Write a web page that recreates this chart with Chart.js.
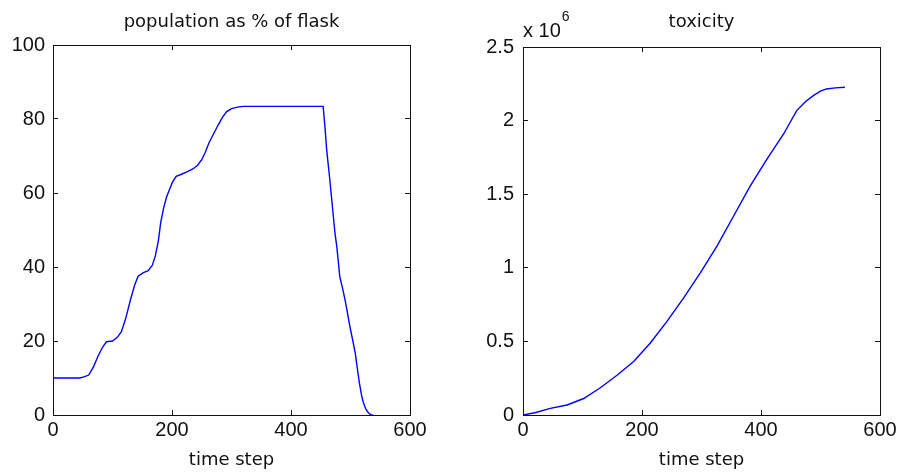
<!DOCTYPE html>
<html>
<head>
<meta charset="utf-8">
<script src="https://cdn.jsdelivr.net/npm/chart.js@4/dist/chart.umd.min.js"></script>
<style>
  html, body { margin: 0; padding: 0; background: #ffffff; }
  #wrap { position: relative; width: 899px; height: 475px; background: #ffffff; }
  canvas { position: absolute; left: 0; top: 0; }
</style>
</head>
<body>
<div id="wrap">
  <canvas id="c1" width="899" height="475"></canvas>
  <canvas id="c2" width="899" height="475"></canvas>
</div>
<script>
// ---- data ----
const popTime  = [0,45,52,60,68,76,84,90,100,108,115,122,130,137,143,152,160,167,172,177,181,186,191,196,201,207,215,225,235,243,250,256,262,270,278,285,292,300,310,320,454,457,460,465,468,474,477,482,487,491,495,499,504,508,512,515,519,522,526,530,534,538];
const popValue = [10,10,10.3,10.8,13,16,18.5,19.8,20,21,22.5,26,31,35,37.5,38.5,39,40.5,43,47,52,56,59,61,63,64.5,65,65.7,66.5,67.5,69,71,73.5,76,78.5,80.5,82,82.8,83.2,83.4,83.4,78,71.6,64,59,49,45.5,37.4,34,31,27.5,23.9,20,16.7,12,8.6,5,3.2,1.5,0.6,0.1,0];

const toxTime  = [0,20,46,74,102,130,158,186,214,242,270,298,326,354,382,410,438,460,475,488,500,510,525,541];
const toxValue = [0,0.015,0.045,0.068,0.112,0.185,0.27,0.363,0.489,0.636,0.795,0.966,1.147,1.352,1.556,1.738,1.909,2.068,2.13,2.17,2.2,2.215,2.222,2.227]; // x 10^6

const xTicks     = [0,200,400,600];
const popYTicks  = [0,20,40,60,80,100];
const toxYTicks  = [0,0.5,1,1.5,2,2.5];
const toxYLabels = ['0','0.5','1','1.5','2','2.5'];

const titles = ['population as % of flask', 'toxicity'];
const xTitle = 'time step';
const toxExponentBase = 'x 10';
const toxExponent = '6';

// ---- styling ----
const TICK_FONT = { family: '"Liberation Sans", Arial, sans-serif', size: 20, weight: 'normal' };
const TEXT_FONT = { family: '"DejaVu Sans", sans-serif', size: 18, weight: 'normal' };
const INK = '#111111';

function setTicks(values) {
  return function (scale) { scale.ticks = values.map(v => ({ value: v })); };
}

function boxScales(xt, yt, ymax, yLabels, yAxisWidth, yPad) {
  const gridCommon = { drawOnChartArea: false, drawTicks: true, tickLength: -5, color: INK, lineWidth: 1 };
  const borderCommon = { display: true, color: INK, width: 1 };
  return {
    x: {
      type: 'linear', position: 'bottom', min: 0, max: 600,
      afterBuildTicks: setTicks(xt),
      ticks: { font: TICK_FONT, color: INK, padding: 8, maxRotation: 0, autoSkip: false,
               callback: v => String(v) },
      grid: gridCommon, border: borderCommon,
      title: { display: true, text: xTitle, font: TEXT_FONT, color: INK, padding: { top: 0, bottom: 4 } },
      afterFit: s => { s.height = 60; s.paddingLeft = 0; s.paddingRight = 0; }
    },
    x2: {
      type: 'linear', position: 'top', min: 0, max: 600,
      afterBuildTicks: setTicks(xt),
      ticks: { display: false },
      grid: gridCommon, border: borderCommon,
      afterFit: s => { s.height = 0; s.paddingLeft = 0; s.paddingRight = 0; }
    },
    y: {
      type: 'linear', position: 'left', min: 0, max: ymax,
      afterBuildTicks: setTicks(yt),
      ticks: { font: TICK_FONT, color: INK, padding: yPad, autoSkip: false,
               callback: (v) => { const i = yt.indexOf(v); return i >= 0 ? yLabels[i] : ''; } },
      grid: gridCommon, border: borderCommon,
      afterFit: s => { s.width = yAxisWidth; s.paddingTop = 0; s.paddingBottom = 0; }
    },
    y2: {
      type: 'linear', position: 'right', min: 0, max: ymax,
      afterBuildTicks: setTicks(yt),
      ticks: { display: false },
      grid: gridCommon, border: borderCommon,
      afterFit: s => { s.width = 0; s.paddingTop = 0; s.paddingBottom = 0; }
    }
  };
}

const exponentPlugin = {
  id: 'exponentLabel',
  afterDraw(chart) {
    const ctx = chart.ctx;
    const a = chart.chartArea;
    ctx.save();
    ctx.fillStyle = INK;
    ctx.textAlign = 'left';
    ctx.textBaseline = 'alphabetic';
    ctx.font = '20px "Liberation Sans", Arial, sans-serif';
    ctx.fillText(toxExponentBase, a.left, 37);
    const w = ctx.measureText(toxExponentBase).width;
    ctx.font = '14px "Liberation Sans", Arial, sans-serif';
    ctx.fillText(toxExponent, a.left + w + 1, 21);
    ctx.restore();
  }
};

function lineDataset(xs, ys) {
  return {
    data: xs.map((x, i) => ({ x: x, y: ys[i] })),
    borderColor: 'rgb(0,0,255)',
    borderWidth: 1.4,
    pointRadius: 0,
    tension: 0,
    fill: false
  };
}

const popYLabels = popYTicks.map(String);

new Chart(document.getElementById('c1'), {
  type: 'line',
  data: { datasets: [lineDataset(popTime, popValue)] },
  options: {
    responsive: false, animation: false, devicePixelRatio: 1,
    layout: { padding: { left: 0, right: 489, top: 0, bottom: 0 } },
    plugins: {
      legend: { display: false }, tooltip: { enabled: false },
      title: { display: true, text: titles[0], font: TEXT_FONT, color: INK, fullSize: false,
               padding: { top: 12, bottom: 11.4 } }
    },
    scales: boxScales(xTicks, popYTicks, 100, popYLabels, 53, 13)
  }
});

new Chart(document.getElementById('c2'), {
  type: 'line',
  data: { datasets: [lineDataset(toxTime, toxValue)] },
  options: {
    responsive: false, animation: false, devicePixelRatio: 1,
    layout: { padding: { left: 463, right: 19, top: 0, bottom: 0 } },
    plugins: {
      legend: { display: false }, tooltip: { enabled: false },
      title: { display: true, text: titles[1], font: TEXT_FONT, color: INK, fullSize: false,
               padding: { top: 12, bottom: 13.4 } }
    },
    scales: boxScales(xTicks, toxYTicks, 2.5, toxYLabels, 60, 14)
  },
  plugins: [exponentPlugin]
});
</script>
</body>
</html>
